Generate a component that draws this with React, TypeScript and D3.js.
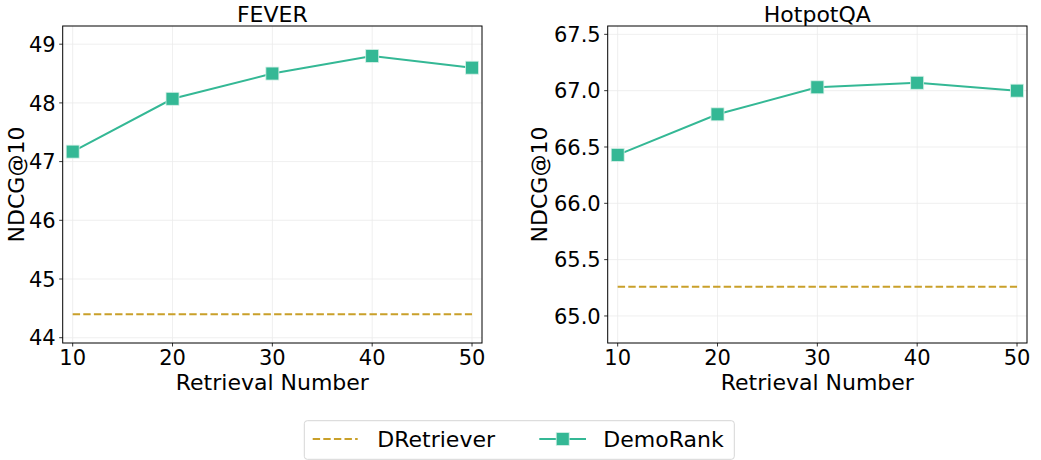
import React from "react";
import * as d3 from "d3";

const retrievalNumbers = [10, 20, 30, 40, 50];
const xTicks = [10, 20, 30, 40, 50];

const feverDemoRank = [47.17, 48.07, 48.5, 48.8, 48.6];
const feverDRetriever = 44.4;
const feverYTicks = [44, 45, 46, 47, 48, 49];
const feverYDomain: [number, number] = [43.91, 49.31];

const hotpotDemoRank = [66.43, 66.79, 67.03, 67.07, 67.0];
const hotpotDRetriever = 65.26;
const hotpotYTicks = [65.0, 65.5, 66.0, 66.5, 67.0, 67.5];
const hotpotYDomain: [number, number] = [64.76, 67.574];

const TEAL = "#34b895";
const GOLD = "#c9a02a";
const FONT = "DejaVu Sans, sans-serif";
const TICK_FS = 21;
const LABEL_FS = 22;

type PanelProps = {
  left: number;
  right: number;
  top: number;
  bottom: number;
  title: string;
  values: number[];
  baseline: number;
  yTicks: number[];
  yDomain: [number, number];
  yFmt: (v: number) => string;
  yLabelX: number;
};

function Panel(p: PanelProps) {
  const x = d3.scaleLinear().domain([9, 51]).range([p.left, p.right]);
  const y = d3.scaleLinear().domain(p.yDomain).range([p.bottom, p.top]);
  const line = d3
    .line<number>()
    .x((_, i) => x(retrievalNumbers[i]))
    .y((d) => y(d));
  const baseLine = d3
    .line<number>()
    .x((d) => x(d))
    .y(() => y(p.baseline));
  const ms = 13;
  return (
    <g>
      {xTicks.map((t) => (
        <line key={"gx" + t} x1={x(t)} x2={x(t)} y1={p.top} y2={p.bottom} stroke="#ebebeb" strokeWidth={0.8} />
      ))}
      {p.yTicks.map((t) => (
        <line key={"gy" + t} x1={p.left} x2={p.right} y1={y(t)} y2={y(t)} stroke="#ebebeb" strokeWidth={0.8} />
      ))}
      <path
        d={baseLine([10, 50]) || ""}
        fill="none"
        stroke={GOLD}
        strokeWidth={2}
        strokeDasharray="7.4 3.2"
      />
      <path d={line(p.values) || ""} fill="none" stroke={TEAL} strokeWidth={2} />
      {p.values.map((v, i) => (
        <rect
          key={"m" + i}
          x={x(retrievalNumbers[i]) - ms / 2}
          y={y(v) - ms / 2}
          width={ms}
          height={ms}
          fill={TEAL}
          stroke="#d8f0e8"
          strokeWidth={0.8}
        />
      ))}
      <rect x={p.left} y={p.top} width={p.right - p.left} height={p.bottom - p.top} fill="none" stroke="#000" strokeWidth={1} />
      {xTicks.map((t) => (
        <g key={"xt" + t}>
          <line x1={x(t)} x2={x(t)} y1={p.bottom} y2={p.bottom + 3.5} stroke="#000" strokeWidth={0.8} />
          <text x={x(t)} y={p.bottom + 21.5} textAnchor="middle" fontSize={TICK_FS} fontFamily={FONT} fill="#000">
            {t}
          </text>
        </g>
      ))}
      {p.yTicks.map((t) => (
        <g key={"yt" + t}>
          <line x1={p.left - 3.5} x2={p.left} y1={y(t)} y2={y(t)} stroke="#000" strokeWidth={0.8} />
          <text x={p.left - 7} y={y(t) + 7.6} textAnchor="end" fontSize={TICK_FS} fontFamily={FONT} fill="#000">
            {p.yFmt(t)}
          </text>
        </g>
      ))}
      <text x={(p.left + p.right) / 2} y={21.5} textAnchor="middle" fontSize={LABEL_FS} fontFamily={FONT} fill="#000">
        {p.title}
      </text>
      <text x={(p.left + p.right) / 2} y={390} textAnchor="middle" fontSize={LABEL_FS} fontFamily={FONT} fill="#000">
        Retrieval Number
      </text>
      <text
        transform={`translate(${p.yLabelX},${(p.top + p.bottom) / 2}) rotate(-90)`}
        textAnchor="middle"
        dy="0.35em"
        fontSize={LABEL_FS}
        fontFamily={FONT}
        fill="#000"
      >
        NDCG@10
      </text>
    </g>
  );
}

export default function App() {
  return (
    <svg
      width={1041}
      height={460}
      style={{ position: "absolute", left: 0, top: 0, background: "#fff" }}
    >
      <rect width={1041} height={460} fill="#fff" />
      <Panel
        left={62.7}
        right={482}
        top={26}
        bottom={343}
        title="FEVER"
        values={feverDemoRank}
        baseline={feverDRetriever}
        yTicks={feverYTicks}
        yDomain={feverYDomain}
        yFmt={(v) => d3.format("d")(v)}
        yLabelX={16}
      />
      <Panel
        left={607.7}
        right={1027}
        top={26}
        bottom={343}
        title="HotpotQA"
        values={hotpotDemoRank}
        baseline={hotpotDRetriever}
        yTicks={hotpotYTicks}
        yDomain={hotpotYDomain}
        yFmt={(v) => d3.format(".1f")(v)}
        yLabelX={539}
      />
      <g>
        <rect x={304.3} y={420.7} width={430} height={38.6} rx={3} fill="#fff" stroke="#d6d6d6" strokeWidth={1} />
        <line x1={312.7} x2={357.7} y1={439} y2={439} stroke={GOLD} strokeWidth={2} strokeDasharray="7.4 3.2" />
        <text x={377.3} y={446.8} fontSize={LABEL_FS} fontFamily={FONT} fill="#000">
          DRetriever
        </text>
        <line x1={539.3} x2={586} y1={439} y2={439} stroke={TEAL} strokeWidth={2} />
        <rect x={562.7 - 6.5} y={439 - 6.5} width={13} height={13} fill={TEAL} stroke="#d8f0e8" strokeWidth={0.8} />
        <text x={603.3} y={446.8} fontSize={LABEL_FS} fontFamily={FONT} fill="#000">
          DemoRank
        </text>
      </g>
    </svg>
  );
}
